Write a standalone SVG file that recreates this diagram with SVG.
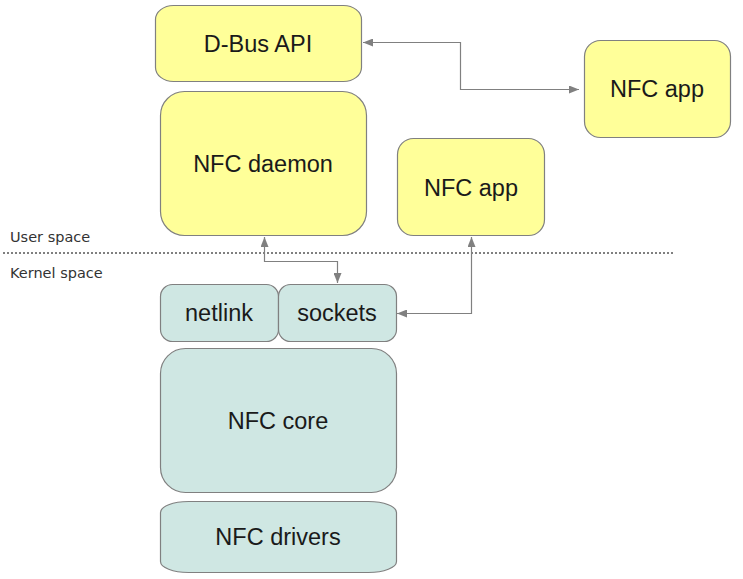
<svg xmlns="http://www.w3.org/2000/svg" width="743" height="579" viewBox="0 0 743 579">
<style>
.y{fill:#ffff99;stroke:#808080;stroke-width:1.2}
.t{fill:#cfe7e3;stroke:#808080;stroke-width:1.2}
.l{font-family:"Liberation Sans",Arial,sans-serif;font-size:23.5px;fill:#1a1a1a;text-anchor:middle}
.s{font-family:"DejaVu Sans",sans-serif;font-size:14.5px;fill:#333}
.c{fill:none;stroke:#808080;stroke-width:1.2}
</style>
<defs>
<marker id="a" viewBox="0 0 10 8" refX="10" refY="4" markerWidth="10" markerHeight="8" markerUnits="userSpaceOnUse" orient="auto-start-reverse">
<path d="M0,0 L10,4 L0,8 Z" fill="#808080"/>
</marker>
</defs>
<rect width="743" height="579" fill="#fff"/>
<line x1="3" y1="253" x2="673" y2="253" stroke="#000" stroke-width="1" stroke-dasharray="2,2"/>
<text class="s" x="10" y="242">User space</text>
<text class="s" x="10" y="278">Kernel space</text>
<g id="dbus"><rect class="y" x="155.5" y="5.5" width="206" height="76" rx="18" ry="14"/><text class="l" x="258" y="52">D-Bus API</text></g>
<g id="daemon"><rect class="y" x="160.5" y="91.5" width="206" height="144" rx="24" ry="24"/><text class="l" x="263" y="172">NFC daemon</text></g>
<g id="app1"><rect class="y" x="584.5" y="40.5" width="146" height="97" rx="16" ry="16"/><text class="l" x="657" y="97">NFC app</text></g>
<g id="app2"><rect class="y" x="397.5" y="138.5" width="147" height="97" rx="16" ry="16"/><text class="l" x="471" y="196">NFC app</text></g>
<g id="netlink"><rect class="t" x="160.5" y="284.5" width="118" height="57" rx="12" ry="12"/><text class="l" x="219" y="321">netlink</text></g>
<g id="sockets"><rect class="t" x="278.5" y="284.5" width="118" height="57" rx="12" ry="12"/><text class="l" x="337" y="321">sockets</text></g>
<g id="core"><rect class="t" x="160.5" y="348.5" width="236" height="144" rx="25" ry="25"/><text class="l" x="278" y="429">NFC core</text></g>
<g id="drivers"><rect class="t" x="160.5" y="501.5" width="236" height="71" rx="28" ry="11"/><text class="l" x="278" y="545">NFC drivers</text></g>
<g id="connectors">
<polyline class="c" points="363,42.5 460.5,42.5 460.5,89.5 579,89.5" marker-start="url(#a)" marker-end="url(#a)"/>
<polyline class="c" points="264.5,237 264.5,261.5 337.5,261.5 337.5,283" marker-start="url(#a)" marker-end="url(#a)"/>
<polyline class="c" points="471.5,237 471.5,313.5 397,313.5" marker-start="url(#a)" marker-end="url(#a)"/>
</g>
</svg>
